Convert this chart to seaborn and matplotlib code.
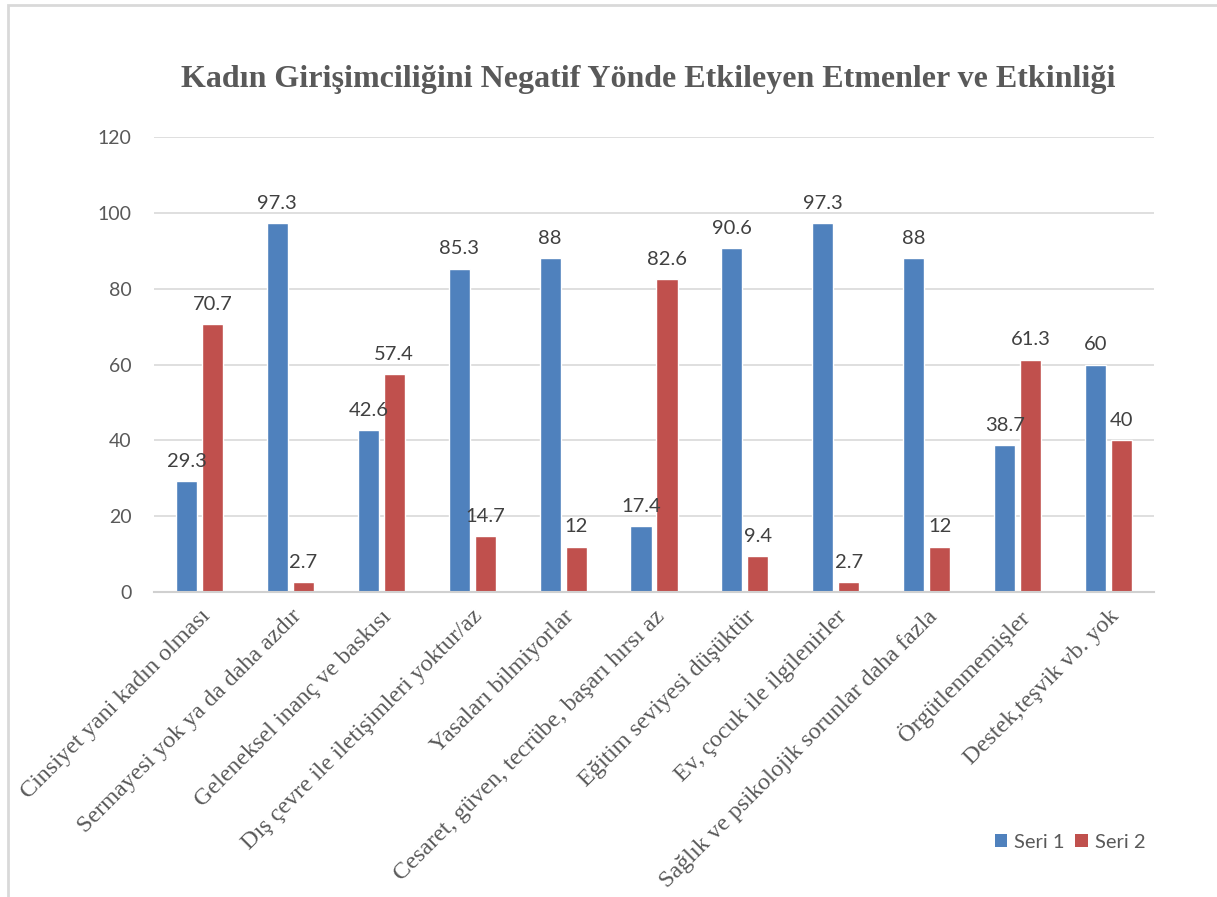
import matplotlib
matplotlib.use("Agg")
import matplotlib.pyplot as plt
from matplotlib.patches import Rectangle, Patch
import seaborn as sns
import pandas as pd

categories = [
    "Cinsiyet yani kadın olması",
    "Sermayesi yok ya da daha azdır",
    "Geleneksel inanç ve baskısı",
    "Dış çevre ile iletişimleri yoktur/az",
    "Yasaları bilmiyorlar",
    "Cesaret, güven, tecrübe, başarı hırsı az",
    "Eğitim seviyesi düşüktür",
    "Ev, çocuk ile ilgilenirler",
    "Sağlık ve psikolojik sorunlar daha fazla",
    "Örgütlenmemişler",
    "Destek,teşvik vb. yok",
]
seri1 = [29.3, 97.3, 42.6, 85.3, 88, 17.4, 90.6, 97.3, 88, 38.7, 60]
seri2 = [70.7, 2.7, 57.4, 14.7, 12, 82.6, 9.4, 2.7, 12, 61.3, 40]
series_names = ["Seri 1", "Seri 2"]
yticks = [0, 20, 40, 60, 80, 100, 120]
title = "Kadın Girişimciliğini Negatif Yönde Etkileyen Etmenler ve Etkinliği"

colors = ["#4F81BD", "#C0504D"]

df = pd.DataFrame({
    "kategori": categories * 2,
    "deger": seri1 + seri2,
    "seri": [series_names[0]] * len(categories) + [series_names[1]] * len(categories),
})

sns.set_theme(style="white")
plt.rcParams["font.family"] = ["Lato", "DejaVu Sans"]

fig = plt.figure(figsize=(12.17, 8.97), dpi=100)
ax = fig.add_axes([154 / 1217, 1 - 592 / 897, (1154 - 154) / 1217, (592 - 137) / 897])

sns.barplot(data=df, x="kategori", y="deger", hue="seri", palette=colors,
            width=0.572, gap=0.19, ax=ax, saturation=1, legend=False)

ax.set_ylim(0, 120)
ax.set_xlim(-0.5, len(categories) - 0.5)
ax.set_yticks(yticks)
ax.set_yticklabels([str(t) for t in yticks], fontsize=14, color="#595959")
ax.yaxis.grid(True, color="#D9D9D9", lw=1.2)
ax.set_axisbelow(True)
for s in ["top", "right", "left"]:
    ax.spines[s].set_visible(False)
ax.spines["bottom"].set_color("#D0D0D0")
ax.spines["bottom"].set_linewidth(1.5)
ax.tick_params(axis="both", length=0)
ax.tick_params(axis="y", pad=16)
ax.set_xlabel("")
ax.set_ylabel("")

ax.set_xticks(range(len(categories)))
ax.set_xticklabels(categories, rotation=45, ha="right", rotation_mode="anchor",
                   fontsize=17.4, color="#595959", family="Liberation Serif")
ax.tick_params(axis="x", pad=10)

for cont in ax.containers:
    ax.bar_label(cont, fmt="{:g}", padding=8, fontsize=14.5, color="#404040")

fig.text(648 / 1217, 1 - 80 / 897, title, ha="center", va="center",
         fontsize=23, fontweight="bold", color="#595959", family="Liberation Serif")

handles = [Patch(facecolor=c, edgecolor="none") for c in colors]
ax.legend(handles, series_names, loc="center", bbox_to_anchor=(1070 / 1217, 1 - 842 / 897),
          bbox_transform=fig.transFigure, ncol=2, frameon=False, fontsize=14.5,
          handlelength=0.6, handleheight=0.6, handletextpad=0.35, columnspacing=0.55,
          labelcolor="#595959")

fig.add_artist(Rectangle((8 / 1217, -0.1), 1.2, 1.1 - 5 / 897, transform=fig.transFigure,
                         fill=False, edgecolor="#D9D9D9", lw=2))

fig.savefig("out.png", dpi=100, facecolor="white")
